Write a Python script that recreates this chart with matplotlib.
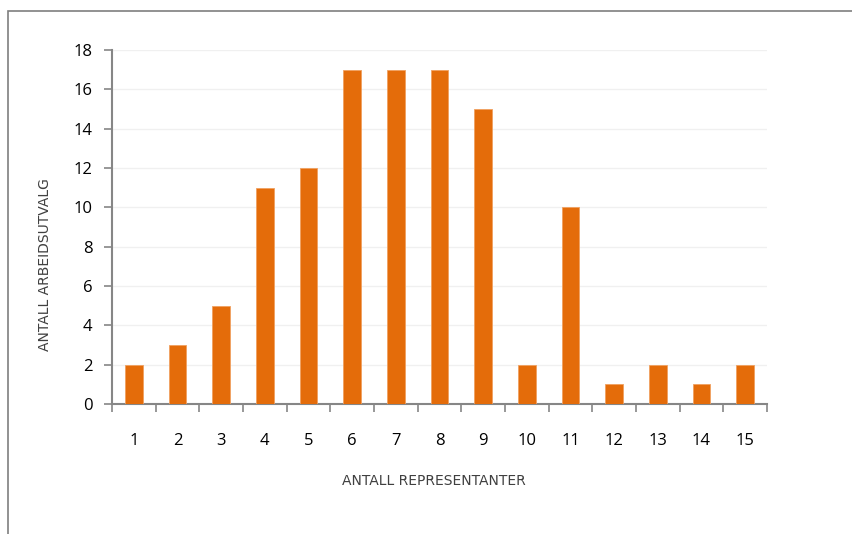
import numpy as np
import matplotlib.pyplot as plt
from matplotlib.patches import Rectangle

# number of representatives vs number of work committees
representanter = np.arange(1, 16)
arbeidsutvalg = [2, 3, 5, 11, 12, 17, 17, 17, 15, 2, 10, 1, 2, 1, 2]
y_ticks = [0, 2, 4, 6, 8, 10, 12, 14, 16, 18]

plt.rcParams['font.family'] = ['Open Sans', 'DejaVu Sans']

fig = plt.figure(figsize=(8.53, 5.34), dpi=100)
ax = fig.add_axes([112/853, 1-404/534, (767-112)/853, (404-50)/534])

# frame around the whole chart
fig.patches.append(Rectangle((8/853, -0.1), 1.2, 1-11/534+0.1, transform=fig.transFigure,
                             fill=False, edgecolor='#7f7f7f', linewidth=1.2))

ax.bar(representanter, arbeidsutvalg, width=0.4, color='#E46C0A', edgecolor='#F0A060',
       linewidth=0.6, zorder=3)

ax.set_xlim(0.5, 15.5)
ax.set_ylim(0, 18)
ax.set_yticks(y_ticks)
ax.set_xticks(representanter)
ax.set_xticks(np.arange(0.5, 16, 1), minor=True)
ax.grid(axis='y', color='#f0f0f0', linewidth=1, zorder=0)

for side in ['top', 'right']:
    ax.spines[side].set_visible(False)
for side in ['left', 'bottom']:
    ax.spines[side].set_color('#868686')
    ax.spines[side].set_linewidth(1.5)

ax.tick_params(axis='x', which='major', length=0, pad=21, labelsize=12, colors='black')
ax.tick_params(axis='x', which='minor', length=6, width=1.2, color='#868686', direction='out')
ax.tick_params(axis='y', length=6, width=1.2, color='#868686', pad=8, labelsize=12)

# axis titles placed in figure coordinates
fig.text(434/853, 1-481/534, 'ANTALL REPRESENTANTER', fontsize=10, family='DejaVu Sans',
         color='#404040', ha='center', va='center')
fig.text(45/853, 1-265/534, 'ANTALL ARBEIDSUTVALG', fontsize=10, family='DejaVu Sans',
         color='#404040', ha='center', va='center', rotation=90)

fig.savefig('out.png', dpi=100)
